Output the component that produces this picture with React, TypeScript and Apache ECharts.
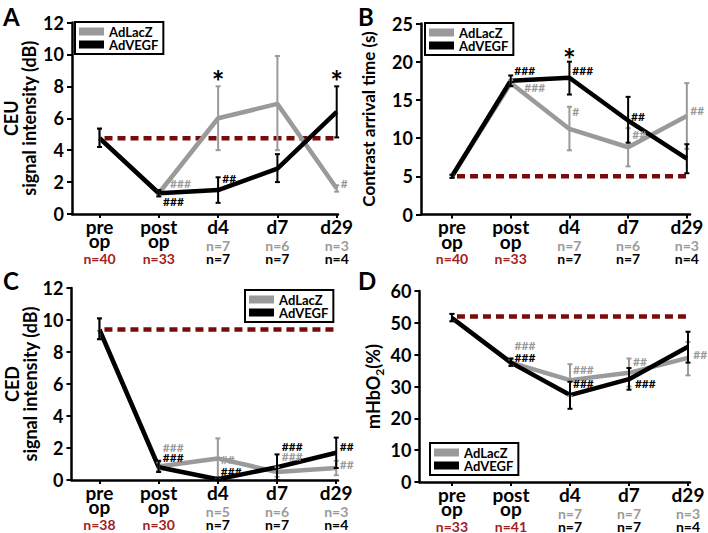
import React, { useEffect, useRef } from "react";
import * as echarts from "echarts";

// ---- shared categories ----
const timepoints = ["pre\nop", "post\nop", "d4", "d7", "d29"];
const catIndex = [0, 1, 2, 3, 4];

// ---- A: CEU signal intensity (dB) ----
const ceuLacZ = [4.75, 1.3, 6.0, 6.9, 1.6];
const ceuLacZErr = [[4.2, 5.35], [1.15, 1.5], [4.0, 8.0], [4.0, 9.9], [1.4, 1.8]];
const ceuVEGF = [4.75, 1.3, 1.5, 2.85, 6.4];
const ceuVEGFErr = [[4.2, 5.35], [1.1, 1.5], [0.7, 2.3], [2.0, 3.75], [4.8, 8.0]];
const ceuBaseline = 4.75;
const ceuNLacZ = ["", "", "n=7", "n=6", "n=3"];
const ceuNPooled = ["n=40", "n=33", "n=7", "n=7", "n=4"];
const ceuMarks = [
  [1.19, 1.9, "###", "lacz"],
  [1.07, 0.8, "###", "vegf"],
  [2.07, 2.25, "##", "vegf"],
  [4.07, 1.9, "#", "lacz"],
  [2, 8.35, "*", "star"],
  [4, 8.35, "*", "star"],
];

// ---- B: contrast arrival time (s) ----
const catLacZ = [5.0, 17.2, 11.2, 8.8, 12.9];
const catLacZErr = [[4.8, 5.2], [16.8, 17.6], [8.4, 14.1], [6.3, 11.3], [8.6, 17.2]];
const catVEGF = [5.0, 17.5, 17.9, 12.3, 7.3];
const catVEGFErr = [[4.8, 5.2], [16.8, 18.2], [15.7, 20.0], [9.4, 15.4], [5.4, 9.2]];
const catBaseline = 5.0;
const catNLacZ = ["", "", "n=7", "n=6", "n=3"];
const catNPooled = ["n=40", "n=33", "n=7", "n=7", "n=4"];
const catMarks = [
  [1.06, 18.8, "###", "vegf"],
  [1.23, 16.6, "###", "lacz"],
  [2.05, 18.8, "###", "vegf"],
  [2.05, 13.5, "#", "lacz"],
  [3.05, 12.8, "##", "vegf"],
  [3.07, 10.5, "##", "lacz"],
  [4.06, 13.6, "##", "lacz"],
  [2, 20.4, "*", "star"],
];

// ---- C: CED signal intensity (dB) ----
const cedLacZ = [9.4, 0.85, 1.35, 0.5, 0.75];
const cedLacZErr = [[8.8, 10.1], [0.6, 1.1], [0.1, 2.6], [0.2, 0.8], [0.3, 1.2]];
const cedVEGF = [9.4, 0.8, 0.05, 0.8, 1.7];
const cedVEGFErr = [[8.8, 10.1], [0.5, 1.2], [0.0, 0.15], [0.0, 1.6], [0.75, 2.65]];
const cedBaseline = 9.4;
const cedNLacZ = ["", "", "n=5", "n=6", "n=3"];
const cedNPooled = ["n=38", "n=30", "n=7", "n=7", "n=4"];
const cedMarks = [
  [1.07, 2.05, "###", "lacz"],
  [1.07, 1.43, "###", "vegf"],
  [2.05, 1.3, "##", "lacz"],
  [2.05, 0.56, "###", "vegf"],
  [3.08, 2.1, "###", "vegf"],
  [3.08, 1.5, "###", "lacz"],
  [4.06, 2.1, "##", "vegf"],
  [4.06, 1.0, "##", "lacz"],
];

// ---- D: mHbO2 (%) ----
const hboLacZ = [51.5, 37.5, 32.0, 34.3, 39.0];
const hboLacZErr = [[50.5, 52.8], [36.5, 38.5], [27.0, 37.0], [30.0, 38.8], [33.5, 44.0]];
const hboVEGF = [51.5, 37.5, 27.3, 32.3, 42.5];
const hboVEGFErr = [[50.5, 52.8], [36.5, 38.8], [23.0, 31.5], [29.0, 35.8], [37.5, 47.2]];
const hboBaseline = 52;
const hboNLacZ = ["", "", "n=7", "n=7", "n=3"];
const hboNPooled = ["n=33", "n=41", "n=7", "n=7", "n=4"];
const hboMarks = [
  [1.06, 42.8, "###", "lacz"],
  [1.06, 39.0, "###", "vegf"],
  [2.05, 35.3, "###", "lacz"],
  [2.05, 30.9, "###", "vegf"],
  [3.07, 37.8, "##", "lacz"],
  [3.1, 30.9, "###", "vegf"],
  [4.09, 40.0, "##", "lacz"],
];

const FONT = 'Lato, "Open Sans", sans-serif';
const GRAY = "#9a9a9a";
const BLACK = "#000000";
const RED = "#a3201d";
const DASH_RED = "#7a0b0b";

const panels = [
  { letter: "A", yName: "CEU\nsignal intensity (dB)", yMax: 12, yStep: 2, lacz: ceuLacZ, laczErr: ceuLacZErr, vegf: ceuVEGF, vegfErr: ceuVEGFErr, baseline: ceuBaseline, nLacZ: ceuNLacZ, nPooled: ceuNPooled, marks: ceuMarks },
  { letter: "B", yName: "Contrast arrival time (s)", yMax: 25, yStep: 5, lacz: catLacZ, laczErr: catLacZErr, vegf: catVEGF, vegfErr: catVEGFErr, baseline: catBaseline, nLacZ: catNLacZ, nPooled: catNPooled, marks: catMarks },
  { letter: "C", yName: "CED\nsignal intensity (dB)", yMax: 12, yStep: 2, lacz: cedLacZ, laczErr: cedLacZErr, vegf: cedVEGF, vegfErr: cedVEGFErr, baseline: cedBaseline, nLacZ: cedNLacZ, nPooled: cedNPooled, marks: cedMarks },
  { letter: "D", yName: "mHbO{sub|2}(%)", yMax: 60, yStep: 10, lacz: hboLacZ, laczErr: hboLacZErr, vegf: hboVEGF, vegfErr: hboVEGFErr, baseline: hboBaseline, nLacZ: hboNLacZ, nPooled: hboNPooled, marks: hboMarks },
];

// plot-area geometry of the four panels
const layouts = [
  { left: 72, top: 22.5, width: 266, height: 191.5, xMin: -0.464, xMax: 4.022, nameGap: 34, nameSize: 18, legend: [75, 22], letter: [3, 4] },
  { left: 421, top: 23.5, width: 269, height: 191, xMin: -0.528, xMax: 4.054, nameGap: 44, nameSize: 17, legend: [425, 23], letter: [358, 4] },
  { left: 71.5, top: 288, width: 266.5, height: 192, xMin: -0.472, xMax: 4.03, nameGap: 33, nameSize: 18, legend: [245, 290], letter: [3, 268] },
  { left: 419.5, top: 291, width: 270.5, height: 191, xMin: -0.55, xMax: 4.034, nameGap: 34, nameSize: 18, legend: [430, 443], letter: [358, 268] },
];

function errorBarSeries(name: string, data: number[][], color: string, xi: number, yi: number, z: number) {
  return {
    type: "custom",
    name,
    xAxisIndex: xi,
    yAxisIndex: yi,
    z,
    silent: true,
    encode: { x: 0, y: [1, 2] },
    data: data.map((d, j) => [catIndex[j], d[0], d[1]]),
    renderItem: (_params: any, api: any) => {
      const x = api.value(0);
      const lo = api.coord([x, api.value(1)]);
      const hi = api.coord([x, api.value(2)]);
      const hw = 2.5;
      const st = { stroke: color, lineWidth: 2 };
      return {
        type: "group",
        children: [
          { type: "line", shape: { x1: hi[0], y1: hi[1], x2: lo[0], y2: lo[1] }, style: st },
          { type: "line", shape: { x1: hi[0] - hw, y1: hi[1], x2: hi[0] + hw, y2: hi[1] }, style: st },
          { type: "line", shape: { x1: lo[0] - hw, y1: lo[1], x2: lo[0] + hw, y2: lo[1] }, style: st },
        ],
      };
    },
  };
}

function markSeries(marks: any[], xi: number, yi: number) {
  return {
    type: "custom",
    name: "marks",
    xAxisIndex: xi,
    yAxisIndex: yi,
    z: 10,
    silent: true,
    clip: false,
    encode: { x: 0, y: 1 },
    data: marks.map((m) => [m[0], m[1]]),
    renderItem: (params: any, api: any) => {
      const m = marks[params.dataIndex];
      const p = api.coord([api.value(0), api.value(1)]);
      const star = m[3] === "star";
      return {
        type: "text",
        x: p[0],
        y: p[1],
        style: {
          text: m[2],
          fill: m[3] === "lacz" ? GRAY : BLACK,
          font: star ? `bold 30px ${FONT}` : `bold 12px ${FONT}`,
          align: star ? "center" : "left",
          verticalAlign: "middle",
        },
      };
    },
  };
}

function buildOption() {
  const grid: any[] = [];
  const xAxis: any[] = [];
  const yAxis: any[] = [];
  const series: any[] = [];
  const legend: any[] = [];
  const graphic: any[] = [];

  panels.forEach((p, i) => {
    const L = layouts[i];
    grid.push({ left: L.left, top: L.top, width: L.width, height: L.height });

    const base = {
      type: "value",
      gridIndex: i,
      min: L.xMin,
      max: L.xMax,
      position: "bottom",
      splitLine: { show: false },
    };
    const xi = xAxis.length;
    xAxis.push({
      ...base,
      axisLine: { show: true, onZero: false, lineStyle: { color: BLACK, width: 2.5 } },
      axisTick: { show: true, length: 4, customValues: catIndex, lineStyle: { color: BLACK, width: 2 } },
      axisLabel: {
        customValues: catIndex,
        formatter: (v: number) => timepoints[Math.round(v)],
        fontFamily: FONT,
        fontWeight: "bold",
        fontSize: 19,
        lineHeight: 14.5,
        color: BLACK,
        margin: 5,
      },
    });
    // group sizes: AdLacZ row
    xAxis.push({
      ...base,
      offset: 31,
      axisLine: { show: false, onZero: false },
      axisTick: { show: false },
      axisLabel: {
        customValues: catIndex,
        formatter: (v: number) => p.nLacZ[Math.round(v)],
        fontFamily: FONT,
        fontWeight: "bold",
        fontSize: 14,
        color: GRAY,
        margin: 0,
        verticalAlign: "middle",
      },
    });
    // group sizes: pooled (pre/post op) and AdVEGF row
    xAxis.push({
      ...base,
      offset: 44,
      axisLine: { show: false, onZero: false },
      axisTick: { show: false },
      axisLabel: {
        customValues: catIndex,
        formatter: (v: number) => {
          const k = Math.round(v);
          return k < 2 ? `{r|${p.nPooled[k]}}` : `{k|${p.nPooled[k]}}`;
        },
        rich: {
          r: { color: RED, fontFamily: FONT, fontWeight: "bold", fontSize: 14 },
          k: { color: BLACK, fontFamily: FONT, fontWeight: "bold", fontSize: 14 },
        },
        margin: 0,
        verticalAlign: "middle",
      },
    });

    yAxis.push({
      type: "value",
      gridIndex: i,
      min: 0,
      max: p.yMax,
      interval: p.yStep,
      name: p.yName,
      nameLocation: "middle",
      nameGap: L.nameGap,
      nameTextStyle: {
        fontFamily: FONT,
        fontWeight: "bold",
        fontSize: L.nameSize,
        lineHeight: 18,
        color: BLACK,
        rich: {
          sub: { fontFamily: FONT, fontWeight: "bold", fontSize: 12, verticalAlign: "bottom", lineHeight: 26, color: BLACK },
        },
      },
      splitLine: { show: false },
      axisLine: { show: true, onZero: false, lineStyle: { color: BLACK, width: 2.5 } },
      axisTick: { show: true, length: 5, lineStyle: { color: BLACK, width: 2 } },
      axisLabel: { fontFamily: FONT, fontWeight: "bold", fontSize: 18, color: BLACK, margin: 8 },
    });

    series.push({
      type: "line",
      name: "baseline",
      xAxisIndex: xi,
      yAxisIndex: i,
      data: [[catIndex[0], p.baseline], [catIndex[4], p.baseline]],
      symbol: "none",
      silent: true,
      z: 1,
      lineStyle: { color: DASH_RED, width: 4.5, type: [8, 5], dashOffset: 8 },
    });
    series.push({
      type: "line",
      name: "AdLacZ",
      xAxisIndex: xi,
      yAxisIndex: i,
      data: p.lacz.map((v, j) => [catIndex[j], v]),
      symbol: "none",
      z: 2,
      lineStyle: { color: GRAY, width: 4.5 },
      itemStyle: { color: GRAY },
    });
    series.push({
      type: "line",
      name: "AdVEGF",
      xAxisIndex: xi,
      yAxisIndex: i,
      data: p.vegf.map((v, j) => [catIndex[j], v]),
      symbol: "none",
      z: 3,
      lineStyle: { color: BLACK, width: 4.5 },
      itemStyle: { color: BLACK },
    });
    series.push(errorBarSeries("errLacZ", p.laczErr, GRAY, xi, i, 4));
    series.push(errorBarSeries("errVEGF", p.vegfErr, BLACK, xi, i, 5));
    series.push(markSeries(p.marks, xi, i));

    legend.push({
      orient: "vertical",
      left: L.legend[0],
      top: L.legend[1],
      data: ["AdLacZ", "AdVEGF"],
      icon: "rect",
      itemWidth: 25,
      itemHeight: 8,
      itemGap: 0,
      padding: [3, 5, 3, 4],
      borderColor: BLACK,
      borderWidth: 2,
      backgroundColor: "#fff",
      selectedMode: false,
      textStyle: { fontFamily: FONT, fontWeight: "bold", fontSize: 13, lineHeight: 13, color: BLACK },
    });

    graphic.push({
      type: "text",
      x: L.letter[0],
      y: L.letter[1],
      style: { text: p.letter, font: `bold 24px ${FONT}`, fill: BLACK },
    });
  });

  return {
    animation: false,
    backgroundColor: "#ffffff",
    grid,
    xAxis,
    yAxis,
    series,
    legend,
    graphic,
  };
}

export default function App() {
  const ref = useRef<HTMLDivElement>(null);
  useEffect(() => {
    if (!ref.current) return;
    const chart = echarts.init(ref.current, undefined, { renderer: "svg" });
    chart.setOption(buildOption() as any);
    return () => chart.dispose();
  }, []);
  return (
    <div
      ref={ref}
      style={{ position: "fixed", left: 0, top: 0, width: 708, height: 533, background: "#fff" }}
    />
  );
}
